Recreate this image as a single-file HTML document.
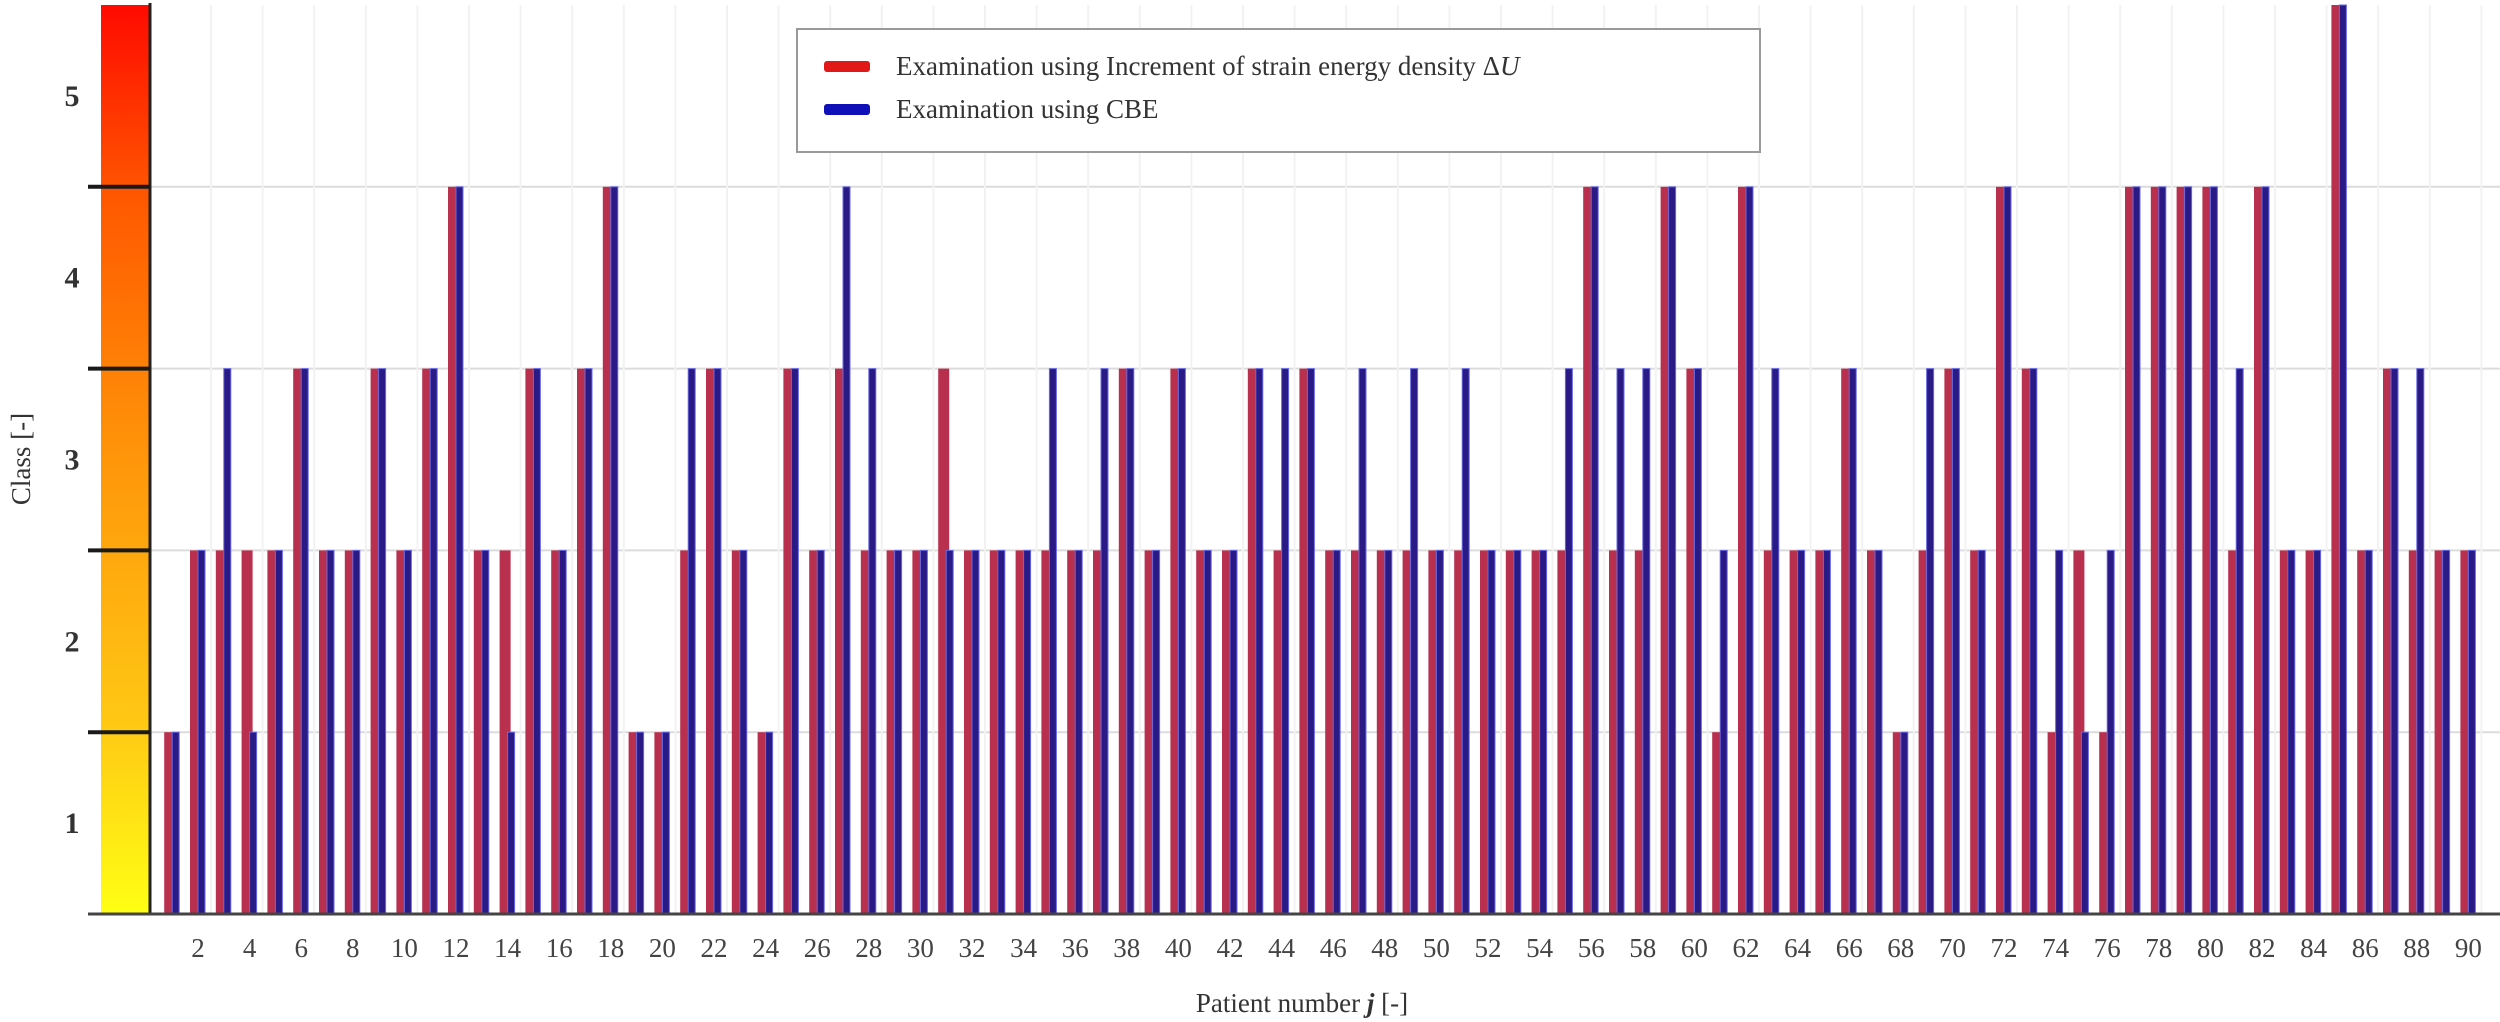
<!DOCTYPE html>
<html><head><meta charset="utf-8">
<style>
html,body{margin:0;padding:0;background:#fff;}
svg{display:block;}
</style></head>
<body>
<svg id="chart" width="2500" height="1022" viewBox="0 0 2500 1022" xmlns="http://www.w3.org/2000/svg" font-family="'Liberation Serif', serif">
<defs>
<linearGradient id="cb" x1="0" y1="1" x2="0" y2="0">
<stop offset="0" stop-color="#ffff14"/>
<stop offset="0.22" stop-color="#ffc614"/>
<stop offset="0.5" stop-color="#ff960a"/>
<stop offset="0.78" stop-color="#ff5a00"/>
<stop offset="1" stop-color="#ff0a00"/>
</linearGradient>
</defs>
<g id="grid"></g>
<rect x="101" y="5" width="48" height="909" fill="url(#cb)"/>
<line x1="150" y1="3" x2="150" y2="914" stroke="#222" stroke-width="3"/>
<g id="ticks"></g>
<g id="bars"></g>
<line x1="88" y1="914" x2="2500" y2="914" stroke="#444" stroke-width="3"/>
<g id="xlabels"></g>
<g id="ylabels"></g>
<text x="0" y="0" transform="translate(30,459) rotate(-90)" text-anchor="middle" font-size="27" fill="#333">Class [-]</text>
<text x="1302" y="1012" text-anchor="middle" font-size="27" fill="#333">Patient number <tspan font-style="italic" font-weight="bold">j</tspan> [-]</text>
<g>
<rect x="797" y="29" width="963" height="123" fill="#fff" stroke="#999" stroke-width="2"/>
<rect x="824" y="61" width="46" height="11" rx="3" fill="#e01818"/>
<text x="896" y="75" font-size="27" fill="#333">Examination using Increment of strain energy density Δ<tspan font-style="italic">U</tspan></text>
<rect x="824" y="104" width="46" height="11" rx="3" fill="#1010b8"/>
<text x="896" y="118" font-size="27" fill="#333">Examination using CBE</text>
</g>
</svg>
<script>
const patients = Array.from({length:90},(_,i)=>i+1);
const redClass = [1,2,2,2,2,3,2,2,3,2,3,4,2,2,3,2,3,4,1,1,2,3,2,1,3,2,3,2,2,2,3,2,2,2,2,2,2,3,2,3,2,2,3,2,3,2,2,2,2,2,2,2,2,2,2,4,2,2,4,3,1,4,2,2,2,3,2,1,2,3,2,4,3,1,2,1,4,4,4,4,2,4,2,2,5,2,3,2,2,2];
const blueClass = [1,2,3,1,2,3,2,2,3,2,3,4,2,1,3,2,3,4,1,1,3,3,2,1,3,2,4,3,2,2,2,2,2,2,3,2,3,3,2,3,2,2,3,3,3,2,3,2,3,2,3,2,2,2,3,4,3,3,4,3,2,4,3,2,2,3,2,1,3,3,2,4,3,2,1,2,4,4,4,4,3,4,2,2,5,2,3,3,2,2];
const xTickLabels = [2,4,6,8,10,12,14,16,18,20,22,24,26,28,30,32,34,36,38,40,42,44,46,48,50,52,54,56,58,60,62,64,66,68,70,72,74,76,78,80,82,84,86,88,90];
const yTickLabels = [1,2,3,4,5];

const NS='http://www.w3.org/2000/svg';
const xScale = p => 198 + (p-2)*25.8;
const yScale = c => 914 - c*181.8;
function mk(tag, attrs, parent){const e=document.createElementNS(NS,tag);for(const k in attrs)e.setAttribute(k,attrs[k]);parent.appendChild(e);return e;}

const grid=document.getElementById('grid');
for(let c=1;c<=4;c++){
  const l=mk('line',{x1:150,x2:2500,y1:yScale(c),y2:yScale(c),stroke:'#dcdcdc','stroke-width':2},grid);
  
  
}
xTickLabels.forEach(p=>{
  const l=mk('line',{x1:xScale(p)+13,x2:xScale(p)+13,y1:5,y2:914,stroke:'#f2f2f2','stroke-width':2},grid);
  
  
});
const ticks=document.getElementById('ticks');
for(let c=1;c<=4;c++){
  const t=mk('line',{x1:88,x2:150,y1:yScale(c),y2:yScale(c),stroke:'#1a1a1a','stroke-width':4},ticks);
  
  
}
const ylab=document.getElementById('ylabels');
yTickLabels.forEach(c=>{
  const t=mk('text',{x:72,y:yScale(c-0.5)+10,'text-anchor':'middle','font-size':30,'font-weight':'bold',fill:'#333'},ylab);
  t.textContent=c;
  
  
});
const bars=document.getElementById('bars');
patients.forEach((p,i)=>{
  const cx=xScale(p);
  const r=mk('rect',{x:cx-8,y:yScale(redClass[i]),width:11,height:914-yScale(redClass[i]),fill:'#b8304e'},bars);
  
  
  const b=mk('rect',{x:cx,y:yScale(blueClass[i]),width:7,height:914-yScale(blueClass[i]),fill:'#2a1a86',stroke:'#6a6ae0','stroke-width':1},bars);
  
  
});
const xl=document.getElementById('xlabels');
xTickLabels.forEach(p=>{
  const t=mk('text',{x:xScale(p),y:957,'text-anchor':'middle','font-size':27,fill:'#444'},xl);
  t.textContent=p;
  
  
});
</script>
</body></html>
